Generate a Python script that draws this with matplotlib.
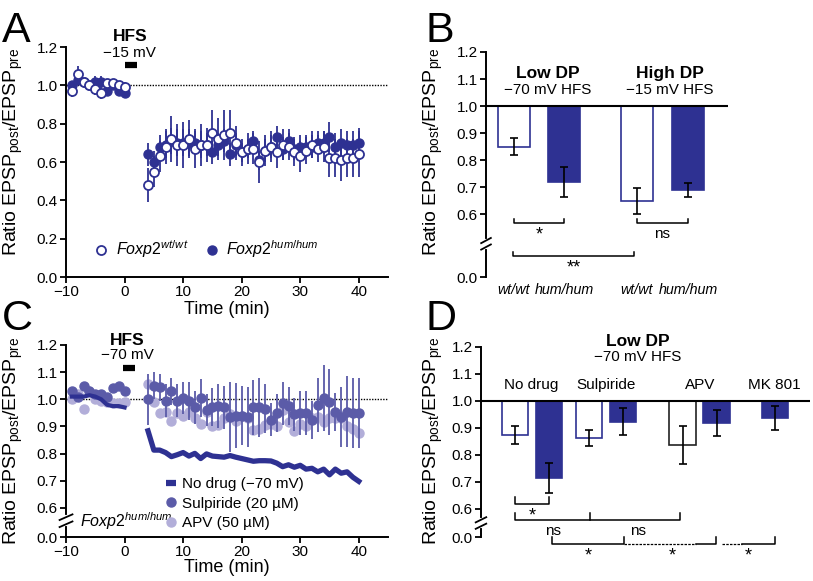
import numpy as np
import matplotlib.pyplot as plt
from matplotlib.lines import Line2D

plt.rcParams['font.family'] = ['Liberation Sans', 'DejaVu Sans']
plt.rcParams['mathtext.fontset'] = 'custom'
plt.rcParams['mathtext.rm'] = 'Liberation Sans'
plt.rcParams['mathtext.it'] = 'Liberation Sans:italic'
plt.rcParams['mathtext.bf'] = 'Liberation Sans:bold'

navy = '#2e3192'
mid = '#5b5ba8'
light = '#b2aed9'

# ---------------- data ----------------
t_pre = np.arange(-9, 1)
t_post = np.arange(4, 41)

# panel A (Foxp2 wt/wt vs hum/hum, -15 mV HFS)
a_wt_pre = [0.97, 1.06, 1.02, 1.00, 0.98, 0.96, 1.01, 1.01, 1.00, 0.99]
a_hum_pre = [1.00, 1.03, 1.02, 1.00, 1.02, 1.02, 0.97, 1.00, 0.97, 0.96]
a_wt_pre_err = [0.03, 0.04, 0.02, 0.02, 0.03, 0.03, 0.02, 0.02, 0.02, 0.03]
a_hum_pre_err = [0.02, 0.03, 0.02, 0.02, 0.03, 0.03, 0.02, 0.02, 0.02, 0.02]
a_wt_post = [0.48, 0.55, 0.63, 0.68, 0.72, 0.69, 0.69, 0.72, 0.67, 0.69,
             0.69, 0.75, 0.72, 0.74, 0.75, 0.70, 0.65, 0.67, 0.67, 0.60,
             0.66, 0.68, 0.65, 0.69, 0.68, 0.65, 0.63, 0.66, 0.69, 0.67,
             0.68, 0.62, 0.62, 0.61, 0.62, 0.62, 0.64]
a_hum_post = [0.64, 0.60, 0.68, 0.69, 0.71, 0.70, 0.70, 0.70, 0.70, 0.69,
              0.69, 0.65, 0.69, 0.71, 0.64, 0.69, 0.65, 0.67, 0.71, 0.61,
              0.66, 0.68, 0.73, 0.67, 0.71, 0.67, 0.68, 0.68, 0.68, 0.70,
              0.70, 0.73, 0.68, 0.70, 0.69, 0.69, 0.70]
a_wt_post_err = [0.09, 0.08, 0.08, 0.09, 0.12, 0.11, 0.12, 0.10, 0.10, 0.11,
                 0.09, 0.12, 0.11, 0.13, 0.12, 0.09, 0.07, 0.08, 0.08, 0.11,
                 0.08, 0.08, 0.08, 0.08, 0.07, 0.07, 0.08, 0.07, 0.07, 0.07,
                 0.08, 0.10, 0.10, 0.11, 0.10, 0.10, 0.12]
a_hum_post_err = [0.06, 0.06, 0.06, 0.07, 0.07, 0.07, 0.07, 0.07, 0.06, 0.07,
                  0.06, 0.06, 0.06, 0.06, 0.06, 0.06, 0.05, 0.05, 0.05, 0.05,
                  0.06, 0.06, 0.06, 0.06, 0.06, 0.06, 0.06, 0.06, 0.06, 0.06,
                  0.06, 0.08, 0.07, 0.07, 0.07, 0.07, 0.08]

# panel B
b_labels = ['wt/wt', 'hum/hum', 'wt/wt', 'hum/hum']
b_vals = [0.85, 0.72, 0.65, 0.69]
b_err = [0.03, 0.055, 0.048, 0.025]

# panel C (Foxp2 hum/hum, -70 mV HFS)
c_nodrug_pre = [1.01, 1.01, 1.01, 1.015, 1.01, 1.00, 0.98, 0.975, 0.975, 0.97]
c_nodrug_post = [0.884, 0.813, 0.813, 0.804, 0.789, 0.796, 0.804, 0.791, 0.801, 0.782,
                 0.799, 0.791, 0.789, 0.787, 0.793, 0.787, 0.782, 0.777, 0.772, 0.774,
                 0.774, 0.773, 0.765, 0.752, 0.759, 0.750, 0.757, 0.743, 0.746, 0.733,
                 0.743, 0.722, 0.743, 0.728, 0.733, 0.713, 0.698]
c_sulp_pre = [1.03, 1.01, 1.05, 1.03, 1.02, 1.02, 1.01, 1.04, 1.05, 1.03]
c_sulp_post = [1.00, 1.05, 1.045, 0.995, 1.03, 0.995, 1.005, 0.995, 0.97, 1.005,
               0.96, 0.97, 0.975, 0.97, 0.935, 0.94, 0.94, 0.935, 0.97, 0.97,
               0.965, 0.925, 0.95, 0.985, 0.975, 0.945, 0.95, 0.95, 0.925, 0.98,
               1.005, 0.99, 0.955, 0.935, 0.955, 0.95, 0.95]
c_sulp_post_err = [0.095, 0.05, 0.05, 0.06, 0.05, 0.06, 0.06, 0.07, 0.06, 0.07,
                   0.06, 0.07, 0.08, 0.08, 0.13, 0.12, 0.11, 0.11, 0.10, 0.11,
                   0.09, 0.06, 0.07, 0.08, 0.07, 0.06, 0.08, 0.08, 0.07, 0.10,
                   0.12, 0.12, 0.07, 0.11, 0.13, 0.13, 0.13]
c_apv_pre = [1.00, 1.02, 0.965, 1.03, 1.00, 0.995, 0.99, 0.985, 0.985, 0.99]
c_apv_post = [1.055, 0.99, 0.948, 0.955, 0.92, 0.95, 0.94, 0.955, 0.932, 0.91,
              0.955, 0.903, 0.905, 0.93, 0.945, 0.92, 0.94, 0.93, 0.887, 0.89,
              0.905, 0.91, 0.90, 0.96, 0.917, 0.885, 0.908, 0.90, 0.933, 0.935,
              0.917, 0.93, 0.93, 0.932, 0.90, 0.89, 0.877]

# panel D
d_groups = ['No drug', 'Sulpiride', 'APV', 'MK 801']
d_vals = [0.875, 0.715, 0.862, 0.923, 0.837, 0.917, 0.937]
d_err = [0.033, 0.055, 0.03, 0.05, 0.07, 0.048, 0.045]

# ---------------- layout ----------------
fig = plt.figure(figsize=(8.13, 5.81), dpi=100)
axA = fig.add_axes([0.0812, 0.5232, 0.3961, 0.3959])
axB = fig.add_axes([0.5978, 0.5232, 0.2977, 0.3873])
axC = fig.add_axes([0.0812, 0.0757, 0.3961, 0.3305])
axD = fig.add_axes([0.5916, 0.0310, 0.4047, 0.3718])

ylab = 'Ratio EPSP$_{\\mathregular{post}}$/EPSP$_{\\mathregular{pre}}$'
TICK = 11

def style(ax):
    for s in ['top', 'right']:
        ax.spines[s].set_visible(False)
    for s in ['left', 'bottom']:
        ax.spines[s].set_linewidth(1.4)
    ax.tick_params(width=1.3, length=4, labelsize=TICK, pad=2)
    ax.set_ylabel(ylab, fontsize=14)

def axis_break(ax, y, dx=0.02, dy=0.012):
    tr = ax.get_yaxis_transform()
    ax.plot([0, 0], [y - dy, y + dy], color='white', lw=3, transform=tr,
            clip_on=False, zorder=5)
    for off in (-dy, dy):
        ax.plot([-dx, dx], [y + off - dy * 0.8, y + off + dy * 0.8], color='k',
                lw=1.3, transform=tr, clip_on=False, zorder=6)

def bracket(ax, x1, x2, y, h=0.018, lw=1.1):
    ax.plot([x1, x1, x2, x2], [y + h, y, y, y + h], color='k', lw=lw)

# ---------------- panel A ----------------
style(axA)
axA.axhline(1.0, color='k', ls=(0, (1, 1)), lw=1, zorder=1)
for t, yh, eh in [(t_pre, a_hum_pre, a_hum_pre_err), (t_post, a_hum_post, a_hum_post_err)]:
    axA.errorbar(t, yh, yerr=eh, fmt='o', ms=6.5, color=navy, mec=navy,
                 elinewidth=1.3, capsize=0, zorder=3)
for t, yw, ew in [(t_pre, a_wt_pre, a_wt_pre_err), (t_post, a_wt_post, a_wt_post_err)]:
    axA.errorbar(t, yw, yerr=ew, fmt='o', ms=6.5, mfc='white', mec=navy, mew=1.3,
                 ecolor=navy, elinewidth=1.3, capsize=0, zorder=4)
axA.set_xlim(-10, 45)
axA.set_ylim(0, 1.2)
axA.set_xticks(np.arange(-10, 41, 10))
axA.set_xticklabels(['\u221210', '0', '10', '20', '30', '40'])
axA.set_yticks(np.arange(0, 1.21, 0.2))
axA.set_yticklabels(['%.1f' % v for v in np.arange(0, 1.21, 0.2)])
axA.set_xlabel('Time (min)', fontsize=13, labelpad=1)
axA.yaxis.set_label_coords(-0.128, 0.543)
axA.plot([0.1, 2.1], [1.106, 1.106], color='k', lw=4.5, solid_capstyle='butt', clip_on=False)
axA.text(0.9, 1.255, 'HFS', ha='center', va='center', fontsize=12.5, fontweight='bold')
axA.text(0.9, 1.17, '\u221215 mV', ha='center', va='center', fontsize=11)
hA = [Line2D([], [], ls='none', marker='o', ms=6.5, mfc='white', mec=navy, mew=1.3),
      Line2D([], [], ls='none', marker='o', ms=6.5, color=navy)]
axA.legend(hA, ['$Foxp2^{wt/wt}$', '$Foxp2^{hum/hum}$'], loc='lower left',
           bbox_to_anchor=(0.035, 0.01), ncol=2, frameon=False, fontsize=11.5,
           handletextpad=0.3, columnspacing=0.9, handlelength=1.2)

# ---------------- panel B ----------------
style(axB)
axB.spines['bottom'].set_visible(False)
b_zero = 0.367
b_pos = [0.56, 1.56, 3.02, 4.04]
b_fill = ['white', navy, 'white', navy]
axB.bar(b_pos, np.array(b_vals) - 1, bottom=1, width=0.64, color=b_fill,
        edgecolor=navy, linewidth=1.2, yerr=b_err, capsize=3,
        error_kw=dict(elinewidth=1.2, capthick=1.2, ecolor='k'), zorder=2)
axB.axhline(1.0, color='k', lw=1.5, zorder=3)
axB.set_xlim(0, 4.84)
axB.set_ylim(b_zero, 1.2)
axB.spines['left'].set_bounds(b_zero, 1.2)
axB.set_yticks([b_zero, 0.6, 0.7, 0.8, 0.9, 1.0, 1.1, 1.2])
axB.set_yticklabels(['0.0', '0.6', '0.7', '0.8', '0.9', '1.0', '1.1', '1.2'])
axB.set_xticks(b_pos)
axB.set_xticklabels(b_labels, style='italic', fontsize=10.3)
axB.tick_params(axis='x', length=0, pad=4)
axB.yaxis.set_label_coords(-0.17, 0.556)
axis_break(axB, 0.49)
axB.text(1.24, 1.122, 'Low DP', ha='center', va='center', fontsize=12.5, fontweight='bold')
axB.text(1.24, 1.058, '\u221270 mV HFS', ha='center', va='center', fontsize=11)
axB.text(3.68, 1.122, 'High DP', ha='center', va='center', fontsize=12.5, fontweight='bold')
axB.text(3.68, 1.058, '\u221215 mV HFS', ha='center', va='center', fontsize=11)
bracket(axB, 0.56, 1.56, 0.567, h=0.015)
axB.text(1.06, 0.555, '*', ha='center', va='top', fontsize=13)
bracket(axB, 3.02, 4.04, 0.567, h=0.015)
axB.text(3.53, 0.552, 'ns', ha='center', va='top', fontsize=11)
bracket(axB, 0.54, 2.96, 0.444, h=0.015)
axB.text(1.75, 0.432, '**', ha='center', va='top', fontsize=13)

# ---------------- panel C ----------------
style(axC)
c_zero = 0.493
axC.axhline(1.0, color='k', ls=(0, (1, 1)), lw=1, zorder=1)
axC.plot(t_pre, c_nodrug_pre, color=navy, lw=3, zorder=3)
axC.plot(t_post, c_nodrug_post, color=navy, lw=3.8, zorder=3)
axC.plot(t_pre, c_apv_pre, 'o', ms=6.5, color=light, zorder=2)
axC.plot(t_post, c_apv_post, 'o', ms=6.5, color=light, zorder=2)
axC.plot(t_pre, c_sulp_pre, 'o', ms=6.5, color=mid, zorder=2.5)
axC.errorbar(t_post, c_sulp_post, yerr=c_sulp_post_err, fmt='o', ms=6.5, color=mid,
             elinewidth=1.3, capsize=0, zorder=2.5)
axC.set_xlim(-10, 45)
axC.set_ylim(c_zero, 1.2)
axC.spines['left'].set_bounds(c_zero, 1.2)
axC.set_xticks(np.arange(-10, 41, 10))
axC.set_xticklabels(['\u221210', '0', '10', '20', '30', '40'])
axC.set_yticks([c_zero, 0.6, 0.7, 0.8, 0.9, 1.0, 1.1, 1.2])
axC.set_yticklabels(['0.0', '0.6', '0.7', '0.8', '0.9', '1.0', '1.1', '1.2'])
axC.set_xlabel('Time (min)', fontsize=13, labelpad=0)
axC.yaxis.set_label_coords(-0.128, 0.50)
axis_break(axC, 0.553, dy=0.013)
axC.plot([-0.2, 1.8], [1.117, 1.117], color='k', lw=4.5, solid_capstyle='butt', clip_on=False)
axC.text(0.5, 1.215, 'HFS', ha='center', va='center', fontsize=12.5, fontweight='bold')
axC.text(0.5, 1.163, '\u221270 mV', ha='center', va='center', fontsize=11)
axC.text(-7.6, 0.55, '$Foxp2^{hum/hum}$', ha='left', va='center', fontsize=11.5)
hC = [Line2D([], [], color=navy, lw=4.5, solid_capstyle='butt'),
      Line2D([], [], ls='none', marker='o', ms=6.5, color=mid),
      Line2D([], [], ls='none', marker='o', ms=6.5, color=light)]
axC.legend(hC, ['No drug (\u221270 mV)', 'Sulpiride (20 \u00b5M)', 'APV (50 \u00b5M)'],
           loc='upper left', bbox_to_anchor=(0.29, 0.345), frameon=False, fontsize=11,
           handlelength=0.7, handletextpad=0.4, labelspacing=0.38, borderaxespad=0)

# ---------------- panel D ----------------
style(axD)
axD.spines['bottom'].set_visible(False)
d_zero = 0.496
d_pos = [1.0, 2.0, 3.18, 4.18, 5.94, 6.94, 8.65]
d_fill = ['white', navy, 'white', navy, 'white', navy, navy]
d_edge = [navy, navy, navy, navy, '#222222', navy, navy]
axD.bar(d_pos, np.array(d_vals) - 1, bottom=1, width=0.79, color=d_fill,
        edgecolor=d_edge, linewidth=1.2, yerr=d_err, capsize=3,
        error_kw=dict(elinewidth=1.2, capthick=1.2, ecolor='k'), zorder=2)
axD.axhline(1.0, color='k', lw=1.5, zorder=3)
axD.set_xlim(0, 9.68)
axD.set_ylim(0.40, 1.2)
axD.spines['left'].set_bounds(d_zero, 1.2)
axD.set_xticks([])
axD.set_yticks([d_zero, 0.6, 0.7, 0.8, 0.9, 1.0, 1.1, 1.2])
axD.set_yticklabels(['0.0', '0.6', '0.7', '0.8', '0.9', '1.0', '1.1', '1.2'])
axD.yaxis.set_label_coords(-0.11, 0.565)
axis_break(axD, 0.548, dx=0.016)
for gx, g in zip([1.47, 3.68, 6.44, 8.62], d_groups):
    axD.text(gx, 1.058, g, ha='center', va='center', fontsize=11)
axD.text(4.62, 1.219, 'Low DP', ha='center', va='center', fontsize=12.5, fontweight='bold')
axD.text(4.62, 1.163, '\u221270 mV HFS', ha='center', va='center', fontsize=11)
bracket(axD, 1.0, 2.0, 0.619, h=0.025)
axD.text(1.5, 0.607, '*', ha='center', va='top', fontsize=13)
axD.plot([1.0, 1.0, 5.85, 5.85], [0.584, 0.559, 0.559, 0.584], color='k', lw=1.1)
axD.plot([3.2, 3.2], [0.559, 0.584], color='k', lw=1.1)
axD.text(2.12, 0.545, 'ns', ha='center', va='top', fontsize=11)
axD.text(4.62, 0.545, 'ns', ha='center', va='top', fontsize=11)
yb = 0.47
axD.plot([2.09, 2.09, 4.2, 4.2], [yb + 0.025, yb, yb, yb + 0.025], color='k', lw=1.1)
axD.plot([4.2, 6.32], [yb, yb], color='k', lw=0.9, ls=(0, (2, 1)))
axD.plot([6.32, 6.91, 6.91], [yb, yb, yb + 0.025], color='k', lw=1.1)
axD.plot([7.09, 7.68], [yb, yb], color='k', lw=0.9, ls=(0, (2, 1)))
axD.plot([7.68, 8.65, 8.65], [yb, yb, yb + 0.025], color='k', lw=1.1)
for sx in [3.15, 5.62, 7.85]:
    axD.text(sx, 0.458, '*', ha='center', va='top', fontsize=13)

# panel letters
for lx, ly, s in [(2, 42, 'A'), (425, 42, 'B'), (2, 330, 'C'), (425, 330, 'D')]:
    fig.text(lx / 813, 1 - ly / 581, s, fontsize=31, va='baseline', ha='left')

fig.savefig('out.png', dpi=100)
